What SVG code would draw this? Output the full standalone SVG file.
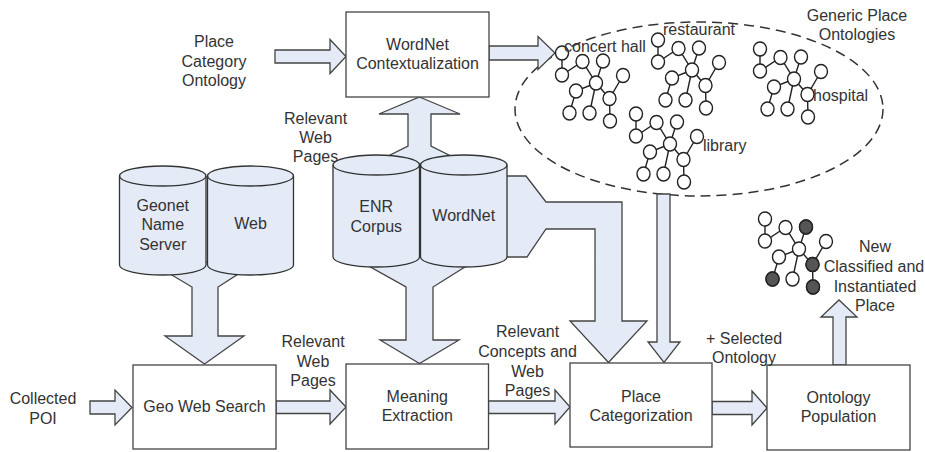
<svg xmlns="http://www.w3.org/2000/svg" xmlns:xlink="http://www.w3.org/1999/xlink" width="925" height="452" viewBox="0 0 925 452">
<style>
  text { font-family: "Liberation Sans", Arial, sans-serif; font-size: 16px; fill: #333; }
  .c { text-anchor: middle; }
  .box { fill: #fff; stroke: #444; stroke-width: 1.3; }
  .arr { fill: #E4EBF7; stroke: #444; stroke-width: 1.3; stroke-linejoin: miter; }
  .cyl { fill: #E4EBF7; stroke: #333; stroke-width: 1.3; }
  .cylf { fill: none; stroke: #333; stroke-width: 1.3; }
  .dash { fill: none; stroke: #333; stroke-width: 1.5; stroke-dasharray: 10 6; }
  .tn { fill: #fff; stroke: #222; stroke-width: 1.4; }
  .te { stroke: #222; stroke-width: 1.4; fill: none; }
  .dk { fill: #555; stroke: #222; stroke-width: 1.4; }
</style>
<defs>
  <g id="tree">
    <path class="te" d="M-34,-30 L-34,-8 L-13.5,-21.5 L0,0 L7,-22 M0,0 L-20,8 L-26.5,30 M0,0 L-6.5,30 M0,0 L13.5,15.5 L27,-7.5 M13.5,15.5 L14,38"/>
    <ellipse class="tn" cx="-34" cy="-30" rx="6.5" ry="7"/>
    <ellipse class="tn" cx="-34" cy="-8" rx="6.5" ry="7"/>
    <ellipse class="tn" cx="-13.5" cy="-21.5" rx="6.5" ry="7"/>
    <ellipse class="tn" cx="7" cy="-22" rx="6.5" ry="7"/>
    <ellipse class="tn" cx="0" cy="0" rx="6.5" ry="7"/>
    <ellipse class="tn" cx="27" cy="-7.5" rx="6.5" ry="7"/>
    <ellipse class="tn" cx="-20" cy="8" rx="6.5" ry="7"/>
    <ellipse class="tn" cx="13.5" cy="15.5" rx="6.5" ry="7"/>
    <ellipse class="tn" cx="-26.5" cy="30" rx="6.5" ry="7"/>
    <ellipse class="tn" cx="-6.5" cy="30" rx="6.5" ry="7"/>
    <ellipse class="tn" cx="14" cy="38" rx="6.5" ry="7"/>
  </g>
</defs>
<rect width="925" height="452" fill="#fff"/>

<g id="generic-ontologies">
  <ellipse class="dash" cx="699" cy="109" rx="184" ry="87"/>
  <text class="c" x="857" y="20.5">Generic Place</text>
  <text class="c" x="857" y="40">Ontologies</text>
</g>

<g id="connectors">
  <polygon id="a-placecat" class="arr" points="275,50 330,50 330,39.5 346,56.5 330,73.5 330,63 275,63"/>
  <polygon id="a-ctx-ont" class="arr" points="489,46 538,46 538,36.5 555,53 538,69.5 538,60 489,60"/>
  <polygon id="a-poi" class="arr" points="90,401 115,401 115,390 132,407.5 115,425 115,414 90,414"/>
  <polygon id="a-geo-mean" class="arr" points="276,401 330,401 330,390 346,407 330,424 330,413.5 276,413.5"/>
  <polygon id="a-mean-place" class="arr" points="488.5,401 555,401 555,390 570,407 555,424 555,413.5 488.5,413.5"/>
  <polygon id="a-place-pop" class="arr" points="712,401.5 752,401.5 752,391 767,408 752,425 752,414.5 712,414.5"/>
  <polygon id="a-pop-up" class="arr" points="833,365 833,317 821,317 839,300 857,317 846,317 846,365"/>
  <polygon id="a-ont-place" class="arr" points="657,194 670,194 670,342 680,342 664,362.5 648,342 657,342"/>
  <polygon id="a-wn-place" class="arr" points="500,176 526,176 546,202 622,202 622,321 647,321 608.5,362.5 570,321 595,321 595,229 546,229 527,257 500,257"/>
  <polygon id="a-corp-ctx" class="arr" points="419.5,97 460,114 431,114 431,146 479,170 360,170 408,146 408,114 379,114"/>
  <polygon id="a-corp-mean" class="arr" points="340,250 492,250 433,287 433,340 459,340 419.5,363.5 380,340 406,340 406,287"/>
  <polygon id="a-geo-search" class="arr" points="150,262 257,262 218,287 218,336 244,336 204.5,364 165,336 192,336 192,287"/>
</g>

<g id="tree-concert"><use xlink:href="#tree" href="#tree" transform="translate(596,83)"/><text x="564" y="52">concert hall</text></g>
<g id="tree-restaurant"><use xlink:href="#tree" href="#tree" transform="translate(692,70)"/><text x="663" y="35">restaurant</text></g>
<g id="tree-library"><use xlink:href="#tree" href="#tree" transform="translate(670,144)"/><text x="703" y="150.5">library</text></g>
<g id="tree-hospital"><use xlink:href="#tree" href="#tree" transform="translate(794,79)"/><text x="813" y="100.5">hospital</text></g>

<g id="tree-new">
  <use xlink:href="#tree" href="#tree" transform="translate(799,249)"/>
  <g transform="translate(799,249)">
    <ellipse class="dk" cx="7" cy="-22" rx="6.5" ry="7"/>
    <ellipse class="dk" cx="13.5" cy="15.5" rx="6.5" ry="7"/>
    <ellipse class="dk" cx="-26.5" cy="30" rx="6.5" ry="7"/>
    <ellipse class="dk" cx="14" cy="38" rx="6.5" ry="7"/>
  </g>
  <text class="c" x="875" y="251.5">New</text>
  <text class="c" x="874" y="271.5">Classified and</text>
  <text class="c" x="875" y="291.5">Instantiated</text>
  <text class="c" x="875" y="310.5">Place</text>
</g>

<g id="cyl-geonet">
  <path class="cyl" d="M119.5,176 L119.5,265 A43.25,10 0 0 0 206,265 L206,176 A43.25,10 0 0 0 119.5,176 Z"/>
  <path class="cylf" d="M119.5,176 A43.25,10 0 0 0 206,176"/>
  <text class="c" x="162.75" y="210.5">Geonet</text>
  <text class="c" x="162.75" y="230">Name</text>
  <text class="c" x="162.75" y="249.5">Server</text>
</g>
<g id="cyl-web">
  <path class="cyl" d="M207.5,176 L207.5,265 A43,10 0 0 0 293.5,265 L293.5,176 A43,10 0 0 0 207.5,176 Z"/>
  <path class="cylf" d="M207.5,176 A43,10 0 0 0 293.5,176"/>
  <text class="c" x="250.5" y="228.5">Web</text>
</g>
<g id="cyl-enr">
  <path class="cyl" d="M333,165 L333,257 A43.25,10 0 0 0 419.5,257 L419.5,165 A43.25,10 0 0 0 333,165 Z"/>
  <path class="cylf" d="M333,165 A43.25,10 0 0 0 419.5,165"/>
  <text class="c" x="376.25" y="212">ENR</text>
  <text class="c" x="376.25" y="231.5">Corpus</text>
</g>
<g id="cyl-wordnet">
  <path class="cyl" d="M420.5,165 L420.5,257 A43.25,10 0 0 0 507,257 L507,165 A43.25,10 0 0 0 420.5,165 Z"/>
  <path class="cylf" d="M420.5,165 A43.25,10 0 0 0 507,165"/>
  <text class="c" x="463.75" y="220.5">WordNet</text>
</g>

<g id="box-ctx">
  <rect class="box" x="346" y="12" width="143" height="85"/>
  <text class="c" x="417.5" y="49.5">WordNet</text>
  <text class="c" x="417.5" y="68.5">Contextualization</text>
</g>
<g id="box-geo">
  <rect class="box" x="133" y="365" width="143" height="84"/>
  <text class="c" x="204.5" y="412">Geo Web Search</text>
</g>
<g id="box-meaning">
  <rect class="box" x="346" y="364" width="142.5" height="85"/>
  <text class="c" x="417.25" y="402">Meaning</text>
  <text class="c" x="417.25" y="420.5">Extraction</text>
</g>
<g id="box-place">
  <rect class="box" x="570" y="363" width="142" height="84"/>
  <text class="c" x="641" y="402">Place</text>
  <text class="c" x="641" y="420.5">Categorization</text>
</g>
<g id="box-pop">
  <rect class="box" x="767" y="365" width="143" height="85"/>
  <text class="c" x="838.5" y="402.5">Ontology</text>
  <text class="c" x="838.5" y="422">Population</text>
</g>

<g id="labels">
  <text class="c" x="214" y="47">Place</text>
  <text class="c" x="214" y="66.5">Category</text>
  <text class="c" x="214" y="85.5">Ontology</text>
  <text class="c" x="315.5" y="124">Relevant</text>
  <text class="c" x="315.5" y="143">Web</text>
  <text class="c" x="315.5" y="162">Pages</text>
  <text class="c" x="43" y="403.5">Collected</text>
  <text class="c" x="43" y="423.5">POI</text>
  <text class="c" x="313" y="347">Relevant</text>
  <text class="c" x="313" y="366.5">Web</text>
  <text class="c" x="313" y="385.5">Pages</text>
  <text class="c" x="527.5" y="337">Relevant</text>
  <text class="c" x="527.5" y="357">Concepts and</text>
  <text class="c" x="527.5" y="376.5">Web</text>
  <text class="c" x="527.5" y="395.5">Pages</text>
  <text class="c" x="744" y="344">+ Selected</text>
  <text class="c" x="744" y="362.5">Ontology</text>
</g>
</svg>
